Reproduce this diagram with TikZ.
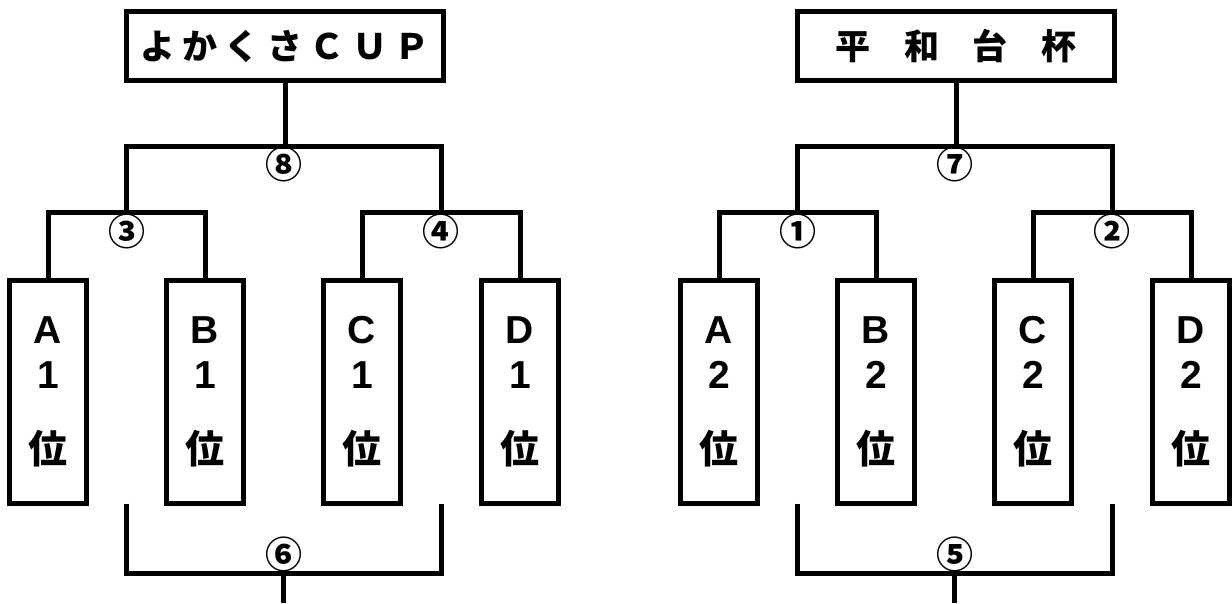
\documentclass[tikz,border=0pt]{standalone}
\usepackage{fontspec}
\setmainfont{Noto Sans CJK JP}
\newfontfamily\latinfont{Liberation Sans}[UprightFont={* Bold}, BoldFont={* Bold}]
\usetikzlibrary{calc}
\newcommand{\tch}[2]{\makebox[#1]{#2}}
\newcommand{\lt}[1]{{\latinfont #1}}
\begin{document}
\begin{tikzpicture}[x=1pt,y=-1pt,
  wire/.style={line width=5pt, line join=miter},
  titlebox/.style={draw, line width=5pt, rectangle, minimum width=317pt, minimum height=69pt, inner sep=0pt, outer sep=0pt, font=\bfseries\fontsize{35}{35}\selectfont},
  teambox/.style={draw, line width=5pt, rectangle, minimum width=77pt, minimum height=223pt, inner sep=0pt, outer sep=0pt, align=center, font=\bfseries\fontsize{39}{45}\selectfont},
  num/.style={inner sep=0pt, font=\bfseries\fontsize{37}{37}\selectfont}]
\useasboundingbox (0,0) rectangle (1232,603);
\fill[white] (0,0) rectangle (1232,603);
% ---------- left bracket ----------
\node[titlebox] (t1) at (285,46) {\tch{42.5pt}{よ}\tch{42.5pt}{か}\tch{42.5pt}{く}\tch{42.5pt}{さ}\tch{42.5pt}{Ｃ}\tch{42.5pt}{Ｕ}\tch{42.5pt}{Ｐ}};
\node[teambox] (la) at (48,392)  {\lt{A}\\\lt{1}\\[30pt]位};
\node[teambox] (lb) at (205,392) {\lt{B}\\\lt{1}\\[30pt]位};
\node[teambox] (lc) at (362,392) {\lt{C}\\\lt{1}\\[30pt]位};
\node[teambox] (ld) at (520,392) {\lt{D}\\\lt{1}\\[30pt]位};
\coordinate (l3) at ($(la.north)!0.5!(lb.north)+(0,-68.5)$);
\coordinate (l4) at ($(lc.north)!0.5!(ld.north)+(0,-68.5)$);
\coordinate (l8) at ($(l3)!0.5!(l4)+(0,-66)$);
\draw[wire] (la.north) |- (l3) -| (lb.north);
\draw[wire] (lc.north) |- (l4) -| (ld.north);
\draw[wire] (l3) |- (l8) -| (l4);
\draw[wire] (t1.south) -- (t1.south |- l8);
\coordinate (l6a) at ($(la.south)!0.5!(lb.south)$);
\coordinate (l6b) at ($(lc.south)!0.5!(ld.south)$);
\coordinate (l6) at ($(l6a)!0.5!(l6b)+(0,69.5)$);
\coordinate (l6e) at ($(l6)+(0,30)$);
\draw[wire] (l6a) |- (l6) -| (l6b);
\draw[wire] (l6) -- (l6e);
\node[num] (n8) at ($(l8)+(0,18.5)$) {⑧};
\node[num] (n3) at ($(l3)+(0,19.5)$) {③};
\node[num] (n4) at ($(l4)+(0,19.5)$) {④};
\node[num] (n6) at ($(l6)+(0,-19)$) {⑥};
% ---------- right bracket ----------
\node[titlebox] (t2) at (956,46) {\tch{68.5pt}{平}\tch{68.5pt}{和}\tch{68.5pt}{台}\tch{68.5pt}{杯}};
\node[teambox] (ra) at (719,392)  {\lt{A}\\\lt{2}\\[30pt]位};
\node[teambox] (rb) at (876,392)  {\lt{B}\\\lt{2}\\[30pt]位};
\node[teambox] (rc) at (1033,392) {\lt{C}\\\lt{2}\\[30pt]位};
\node[teambox] (rd) at (1191,392) {\lt{D}\\\lt{2}\\[30pt]位};
\coordinate (r1) at ($(ra.north)!0.5!(rb.north)+(0,-68.5)$);
\coordinate (r2) at ($(rc.north)!0.5!(rd.north)+(0,-68.5)$);
\coordinate (r7) at ($(r1)!0.5!(r2)+(0,-66)$);
\draw[wire] (ra.north) |- (r1) -| (rb.north);
\draw[wire] (rc.north) |- (r2) -| (rd.north);
\draw[wire] (r1) |- (r7) -| (r2);
\draw[wire] (t2.south) -- (t2.south |- r7);
\coordinate (r5a) at ($(ra.south)!0.5!(rb.south)$);
\coordinate (r5b) at ($(rc.south)!0.5!(rd.south)$);
\coordinate (r5) at ($(r5a)!0.5!(r5b)+(0,69.5)$);
\coordinate (r5e) at ($(r5)+(0,30)$);
\draw[wire] (r5a) |- (r5) -| (r5b);
\draw[wire] (r5) -- (r5e);
\node[num] (n7) at ($(r7)+(0,18.5)$) {⑦};
\node[num] (n1) at ($(r1)+(0,19.5)$) {①};
\node[num] (n2) at ($(r2)+(0,19.5)$) {②};
\node[num] (n5) at ($(r5)+(0,-19)$) {⑤};
\end{tikzpicture}
\end{document}
